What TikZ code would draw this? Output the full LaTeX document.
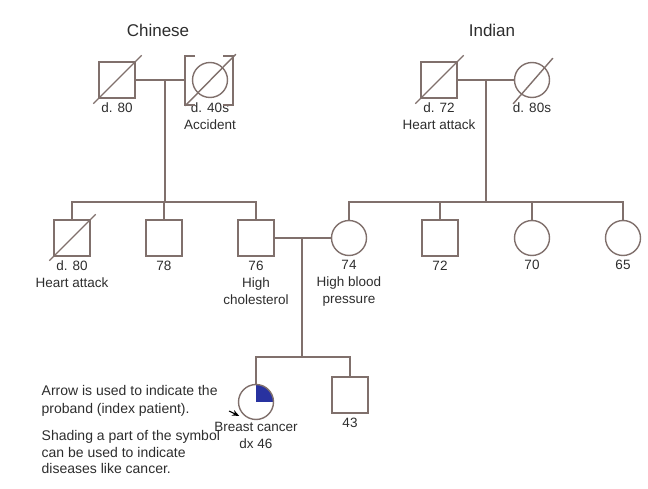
\documentclass[tikz,border=0pt]{standalone}
\usepackage{fontspec}
\setmainfont{Liberation Sans}
\usetikzlibrary{arrows.meta}
\definecolor{pline}{RGB}{128,112,108}
\definecolor{ptext}{RGB}{45,45,45}
\definecolor{pblue}{RGB}{40,50,160}
\begin{document}
\begin{tikzpicture}[x=1pt,y=-1pt,
	male/.style={draw=pline, line width=1.4pt, rectangle, minimum size=36pt, inner sep=0pt, fill=white},
	female/.style={draw=pline, line width=1.4pt, circle, minimum size=35pt, inner sep=0pt, fill=white},
	lbl/.style={font=\fontsize{13.5}{17}\selectfont, text=ptext, align=center, inner sep=1.5pt},
	lnk/.style={pline, line width=1.4pt},
	label distance=2.5pt,
	every label/.style={lbl}]
	\useasboundingbox (0,0) rectangle (648,489);
	
	\node[lbl, font=\fontsize{17}{20}\selectfont] (chn) at (158,30) {Chinese};
	\node[lbl, font=\fontsize{17}{20}\selectfont] (ind) at (492,30) {Indian};
	
	\node[male, label=below:{d. 80}] (cgf) at (117,80) {};
	\node[female, label=below:{d. 40s\\Accident}] (cgm) at (210,80) {};
	\node[male, label=below:{d. 72\\Heart attack}] (igf) at (439,80) {};
	\node[female, label=below:{d. 80s}] (igm) at (532,80) {};
	
	\draw[lnk] (195,56) -- (185,56) -- (185,105) -- (195,105);
	\draw[lnk] (223,56) -- (233,56) -- (233,105) -- (223,105);
	\coordinate (cbr) at (185,80);
	
	\draw[lnk] ([shift={(-5,5)}]cgf.south west) -- ([shift={(6,-6)}]cgf.north east);
	\draw[lnk] ([shift={(-12,13)}]cgm.south west) -- ([shift={(13,-13)}]cgm.north east);
	\draw[lnk] ([shift={(-5,5)}]igf.south west) -- ([shift={(6,-6)}]igf.north east);
	\draw[lnk] ([shift={(-6,11)}]igm.south west) -- ([shift={(8,-9)}]igm.north east);
	
	\coordinate (cm) at (165,80);
	\coordinate (cs) at (165,202);
	\coordinate (im) at (486,80);
	\coordinate (is) at (486,202);
	\draw[lnk] (cgf.east) -- (cbr);
	\draw[lnk] (igf) -- (igm);
	\draw[lnk] (cm) -- (cs);
	\draw[lnk] (im) -- (is);
	
	\node[male, label=below:{d. 80\\Heart attack}] (c1) at (72,238) {};
	\node[male, label=below:{78}] (c2) at (164,238) {};
	\node[male, label=below:{76\\High\\cholesterol}] (c3) at (256,238) {};
	\node[female, label=below:{74\\High blood\\pressure}] (i1) at (349,238) {};
	\node[male, label=below:{72}] (i2) at (440,238) {};
	\node[female, label=below:{70}] (i3) at (532,238) {};
	\node[female, label=below:{65}] (i4) at (623,238) {};
	
	\draw[lnk] ([shift={(-4,4)}]c1.south west) -- ([shift={(5,-5)}]c1.north east);
	
	\draw[lnk] (c1.north) -- (c1.north |- cs) -- (c3.north |- cs) -- (c3.north);
	\draw[lnk] (c2.north) -- (c2.north |- cs);
	\draw[lnk] (i1.north) -- (i1.north |- is) -- (i4.north |- is) -- (i4.north);
	\draw[lnk] (i2.north) -- (i2.north |- is);
	\draw[lnk] (i3.north) -- (i3.north |- is);
	
	\coordinate (pm) at (302,238);
	\coordinate (ps) at (302,357);
	\draw[lnk] (c3) -- (i1);
	\draw[lnk] (pm) -- (ps);
	
	\node[female, path picture={\fill[pblue] (path picture bounding box.center) rectangle (path picture bounding box.north east);}, label={[label distance=0pt]below:{Breast cancer\\dx 46}}] (pro) at (256,402) {};
	\node[male, label=below:{43}] (s43) at (350,395) {};
	\draw[lnk] (pro.north) -- (pro.north |- ps) -- (s43.north |- ps) -- (s43.north);
	
	\draw[-{Stealth[length=7pt,width=6pt]}, line width=1.1pt, black] (229,411) -- ([shift={(-4,1)}]pro.south west);
	
	\node[lbl, font=\fontsize{14}{18}\selectfont, align=left, anchor=north west] (note1) at (40,384) {Arrow is used to indicate the\\proband (index patient).};
	\node[lbl, font=\fontsize{14}{16.5}\selectfont, align=left, anchor=north west] (note2) at (40,429) {Shading a part of the symbol\\can be used to indicate\\diseases like cancer.};
	
\end{tikzpicture}
\end{document}
